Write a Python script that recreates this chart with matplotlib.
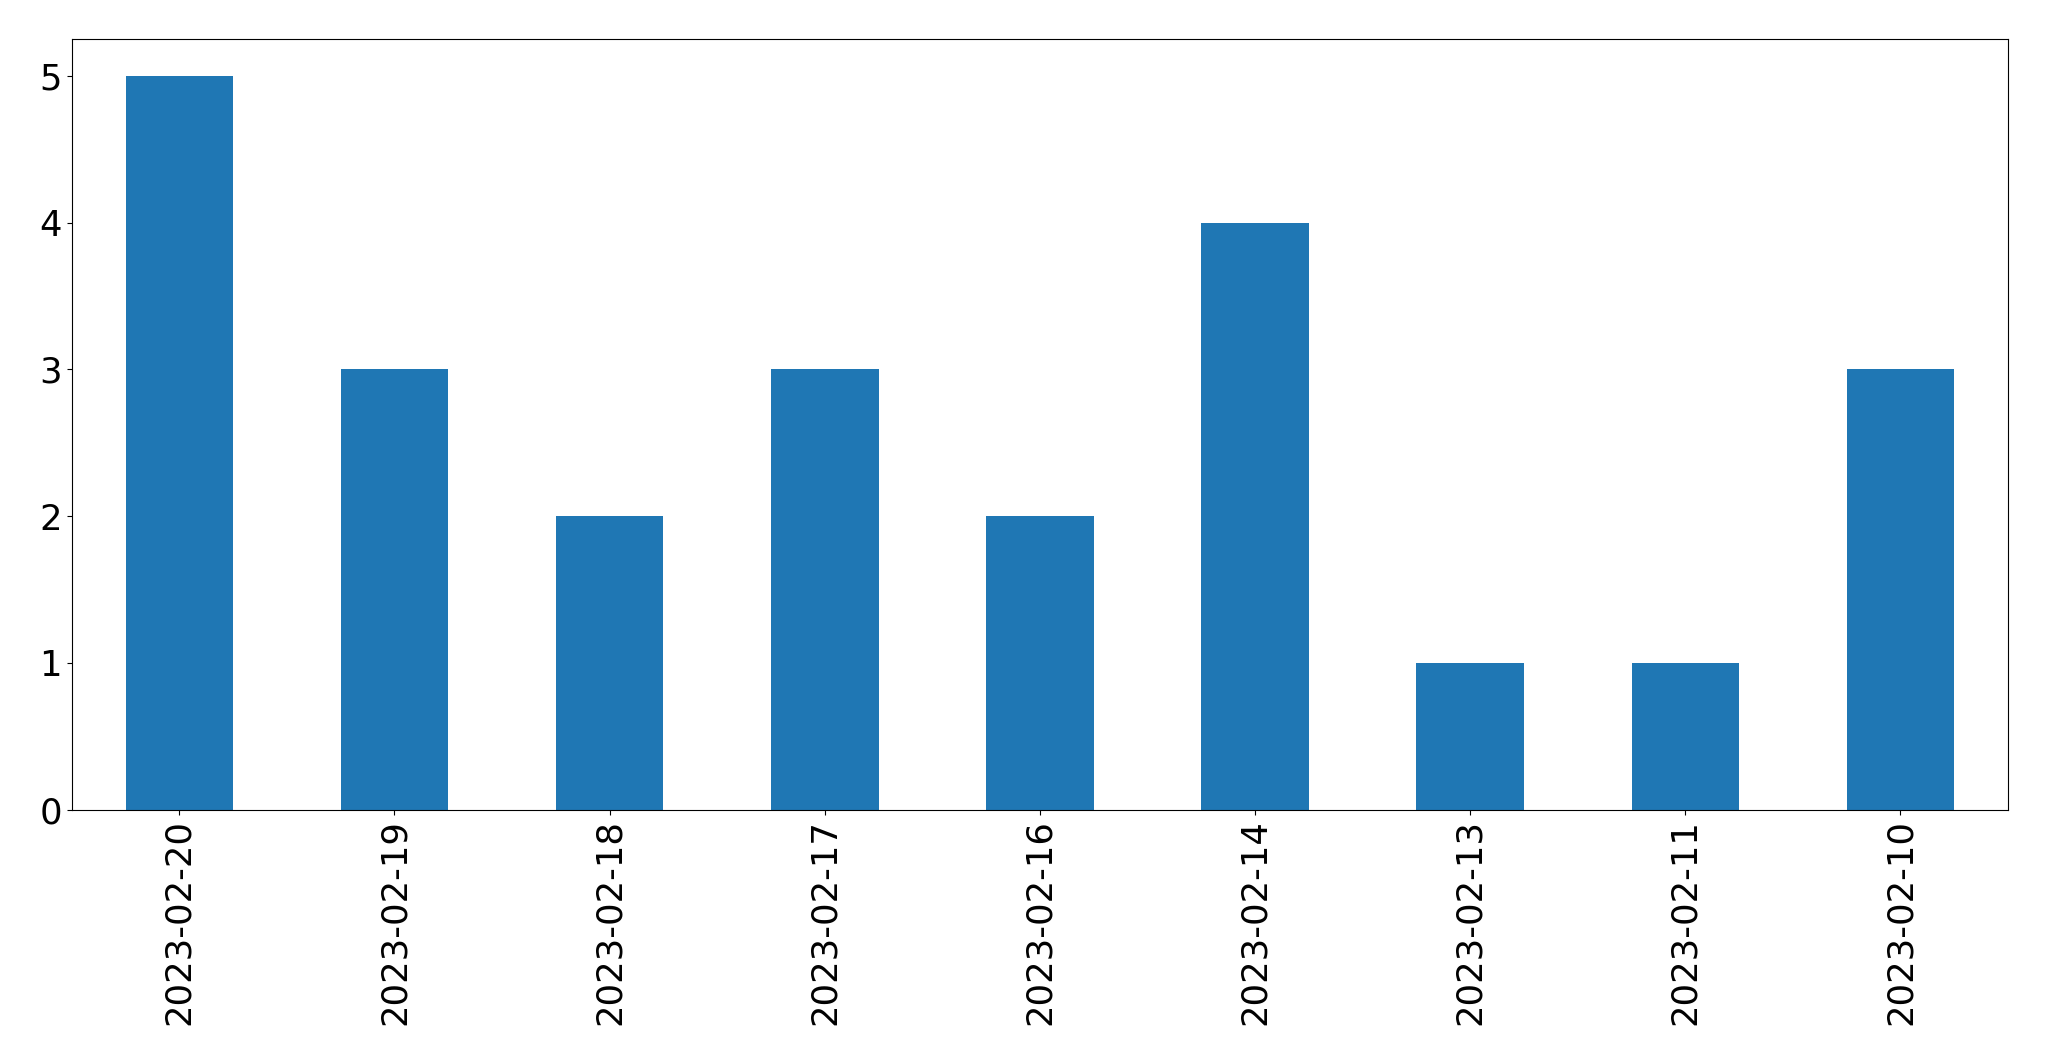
import matplotlib
matplotlib.use("Agg")
import matplotlib.pyplot as plt
import numpy as np

dates = ['2023-02-20', '2023-02-19', '2023-02-18', '2023-02-17', '2023-02-16',
         '2023-02-14', '2023-02-13', '2023-02-11', '2023-02-10']
counts = [5, 3, 2, 3, 2, 4, 1, 1, 3]

fig, ax = plt.subplots(figsize=(20.49, 10.61), dpi=100)
x = np.arange(len(dates))
ax.bar(x, counts, width=0.5, color='#1f77b4')
ax.set_xticks(x)
ax.set_xticklabels(dates, rotation=90, fontsize=25.5)
ax.tick_params(axis='y', labelsize=25.5)
ax.set_xlim(-0.5, len(dates) - 0.5)
ax.set_yticks(range(0, 6))
fig.subplots_adjust(left=0.035, right=0.98, top=0.963, bottom=0.237)
plt.savefig('out.png')
